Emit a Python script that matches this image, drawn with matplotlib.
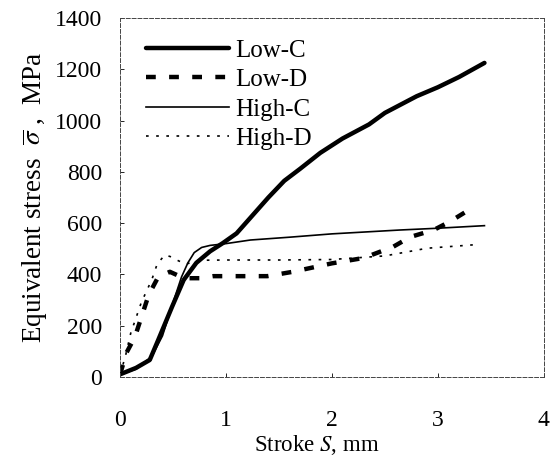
import matplotlib
matplotlib.use('Agg')
import matplotlib.pyplot as plt

plt.rcParams['font.family'] = ['Liberation Serif', 'DejaVu Serif']
plt.rcParams['mathtext.fontset'] = 'stix'

# stroke (mm) / equivalent stress (MPa)
low_c_x = [0, 0.15, 0.28, 0.36, 0.49, 0.6, 0.72, 0.85, 0.97, 1.1, 1.25, 1.4, 1.55, 1.7, 1.89, 2.1, 2.35, 2.5, 2.8, 3.0, 3.2, 3.44]
low_c_y = [10, 35, 66, 144, 273, 378, 445, 490, 522, 560, 630, 700, 765, 812, 874, 930, 985, 1030, 1095, 1130, 1170, 1225]

low_d_x = [0, 0.06, 0.14, 0.27, 0.36, 0.47, 0.55, 0.62, 0.75, 0.88, 1.1, 1.39, 1.63, 2.0, 2.3, 2.58, 2.74, 2.96, 3.11, 3.28, 3.35]
low_d_y = [10, 94, 156, 320, 390, 410, 395, 385, 385, 393, 393, 393, 410, 443, 464, 508, 546, 573, 605, 648, 665]

high_c_x = [0, 0.15, 0.3, 0.4, 0.5, 0.58, 0.64, 0.7, 0.77, 0.85, 1.0, 1.23, 1.6, 2.0, 2.64, 3.0, 3.44]
high_c_y = [10, 30, 80, 160, 290, 390, 445, 485, 505, 513, 520, 534, 545, 558, 573, 580, 590]

high_d_x = [0, 0.05, 0.1, 0.2, 0.3, 0.35, 0.42, 0.47, 0.54, 0.62, 0.75, 1.0, 1.5, 2.0, 2.5, 2.9, 3.33]
high_d_y = [10, 80, 170, 290, 380, 440, 475, 470, 455, 440, 455, 456, 456, 458, 472, 502, 515]

labels = ['Low-C', 'Low-D', 'High-C', 'High-D']

fig = plt.figure(figsize=(5.56, 4.63), dpi=100)
ax = fig.add_axes([0.216, 0.186, 0.762, 0.775])

ax.plot(low_c_x, low_c_y, color='black', lw=3.2, label=labels[0], solid_capstyle='round')
ax.plot(low_d_x, low_d_y, color='black', lw=3.2, linestyle=(0, (2.2, 3)), label=labels[1])
ax.plot(high_c_x, high_c_y, color='black', lw=1.2, label=labels[2])
ax.plot(high_d_x, high_d_y, color='black', lw=1.2, linestyle=(0, (1.6, 4.5)), label=labels[3])

ax.set_xlim(0, 4)
ax.set_ylim(0, 1400)
ax.set_xticks([0, 1, 2, 3, 4])
ax.set_yticks(range(0, 1401, 200))
ax.tick_params(direction='in', length=3, width=0.6, labelsize=17)
ax.tick_params(axis='x', pad=24)
ax.tick_params(axis='y', pad=13)

for s in ax.spines.values():
    s.set_linestyle((0, (4, 2)))
    s.set_linewidth(0.7)
    s.set_color('#444444')

ax.set_xlabel('Stroke $S$, mm', fontsize=16.5, labelpad=0)
ax.xaxis.set_label_coords(0.465, -0.19, transform=ax.transAxes)
ax.xaxis.get_label().set_va('center')
ax.set_ylabel(r'Equivalent stress  $\overline{\sigma}$ ,  MPa', fontsize=19.5, labelpad=4)

leg = ax.legend(loc='upper left', frameon=False, fontsize=18, handlelength=3.3,
                handletextpad=0.25, labelspacing=0.28, borderaxespad=0.3,
                bbox_to_anchor=(0.021, 0.99))

fig.savefig('out.png', dpi=100)
